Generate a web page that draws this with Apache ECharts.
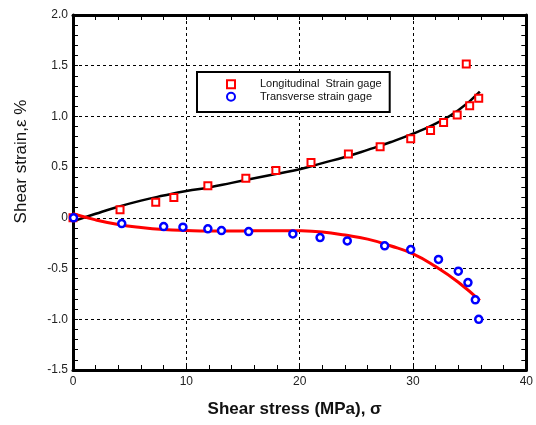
<!DOCTYPE html>
<html>
<head>
<meta charset="utf-8">
<script src="https://cdn.jsdelivr.net/npm/echarts@6/dist/echarts.min.js"></script>
<style>
  html, body { margin: 0; padding: 0; background: #fff; }
  #chart { width: 536px; height: 425px; }
</style>
</head>
<body>
<div id="chart"></div>
<script>
// measured points (stress MPa, strain %)
const longStress = [0, 4.15, 7.3, 8.9, 11.9, 15.25, 17.9, 21.0, 24.3, 27.1, 29.8, 31.55, 32.7, 33.9, 34.7, 35.0, 35.8];
const longStrain = [0, 0.08, 0.155, 0.20, 0.316, 0.39, 0.467, 0.546, 0.63, 0.70, 0.78, 0.862, 0.94, 1.014, 1.517, 1.106, 1.18];

const transStress = [0.05, 4.3, 8.0, 9.7, 11.9, 13.1, 15.5, 19.4, 21.8, 24.2, 27.5, 29.8, 32.25, 34.0, 34.85, 35.5, 35.8];
const transStrain = [0, -0.056, -0.086, -0.092, -0.108, -0.125, -0.135, -0.158, -0.194, -0.227, -0.276, -0.313, -0.41, -0.526, -0.638, -0.808, -1.0];

// fitted curves
const fitLongX = [0, 2, 4, 6, 8, 10, 12, 14, 16, 18, 20, 22, 24, 26, 28, 30, 32, 34, 35.9];
const fitLongY = [-0.035, 0.04, 0.11, 0.17, 0.22, 0.265, 0.30, 0.345, 0.39, 0.435, 0.48, 0.54, 0.60, 0.67, 0.745, 0.83, 0.93, 1.06, 1.245];
const fitTransX = [0, 2, 4, 6, 8, 10, 12, 14, 16, 18, 20, 22, 24, 26, 28, 30, 32, 34, 35.9];
const fitTransY = [0.04, -0.02, -0.065, -0.095, -0.115, -0.125, -0.13, -0.13, -0.128, -0.126, -0.128, -0.14, -0.17, -0.21, -0.275, -0.355, -0.48, -0.635, -0.815];

const seriesNames = ['Longitudinal  Strain gage', 'Transverse strain gage'];
const yTickLabels = { '-1.5': '-1.5', '-1': '-1.0', '-0.5': '-0.5', '0': '0', '0.5': '0.5', '1': '1.0', '1.5': '1.5', '2': '2.0' };

const zip = (a, b) => a.map((v, i) => [v, b[i]]);

const chart = echarts.init(document.getElementById('chart'));

const gridDash = { show: true, lineStyle: { color: '#000', width: 1, type: [3, 3] } };
const tickIn = { show: true, inside: true, length: 5, lineStyle: { color: '#000', width: 1 } };
const minorIn = { show: true, splitNumber: 5, length: 5, lineStyle: { color: '#000', width: 1 } };
const frame = { show: true, onZero: false, lineStyle: { color: '#000', width: 3 } };
const font = 'Liberation Sans, Arial, sans-serif';

let option = {
  animation: false,
  textStyle: { fontFamily: font },
  grid: { left: 73, right: 7, top: 15, bottom: 55 },
  xAxis: [
    {
      type: 'value', min: 0, max: 40, interval: 10,
      axisLine: frame, axisTick: tickIn, minorTick: minorIn,
      splitLine: gridDash,
      axisLabel: { color: '#222', fontSize: 12, margin: 6, fontFamily: font },
      name: 'Shear stress (MPa), σ',
      nameLocation: 'middle', nameGap: 31,
      nameTextStyle: { color: '#111', fontSize: 17, fontWeight: 'bold', fontFamily: font, padding: [0, 10, 0, 0] }
    },
    {
      type: 'value', position: 'top', min: 0, max: 40, interval: 10,
      axisLine: frame, axisTick: tickIn, minorTick: minorIn,
      splitLine: { show: false }, axisLabel: { show: false }
    }
  ],
  yAxis: [
    {
      type: 'value', min: -1.5, max: 2.0, interval: 0.5,
      axisLine: frame, axisTick: tickIn, minorTick: minorIn,
      splitLine: gridDash,
      axisLabel: {
        color: '#222', fontSize: 12, margin: 5, fontFamily: font,
        formatter: (v) => yTickLabels[String(v)] || String(v)
      },
      name: 'Shear strain,ε %',
      nameLocation: 'middle', nameGap: 43,
      nameTextStyle: { color: '#111', fontSize: 17, fontFamily: font, padding: [0, 0, 0, 62] }
    },
    {
      type: 'value', position: 'right', min: -1.5, max: 2.0, interval: 0.5,
      axisLine: frame, axisTick: tickIn, minorTick: minorIn,
      splitLine: { show: false }, axisLabel: { show: false }
    }
  ],
  legend: {
    data: seriesNames,
    orient: 'vertical',
    left: 197, top: 72,
    itemWidth: 8, itemHeight: 8, itemGap: 0,
    padding: [6, 8, 9, 29],
    borderColor: '#000', borderWidth: 2, backgroundColor: '#fff',
    textStyle: { color: '#111', fontSize: 11, lineHeight: 12.5, fontFamily: font, padding: [0, 0, 0, 20] }
  },
  series: [
    {
      name: 'fitLong', type: 'line', smooth: true, showSymbol: false, symbol: 'none',
      data: zip(fitLongX, fitLongY), lineStyle: { color: '#000', width: 2.5 }, z: 2
    },
    {
      name: 'fitTrans', type: 'line', smooth: true, showSymbol: false, symbol: 'none',
      data: zip(fitTransX, fitTransY), lineStyle: { color: '#f00', width: 3 }, z: 2
    },
    {
      name: seriesNames[0], type: 'scatter', symbol: 'rect', symbolSize: 7,
      data: zip(longStress, longStrain),
      itemStyle: { color: '#fff', borderColor: '#f00', borderWidth: 2, opacity: 1 }, z: 3
    },
    {
      name: seriesNames[1], type: 'scatter', symbol: 'circle', symbolSize: 7,
      data: zip(transStress, transStrain),
      itemStyle: { color: '#fff', borderColor: '#00f', borderWidth: 2.5, opacity: 1 }, z: 4
    }
  ]
};

option && chart.setOption(option);
</script>
</body>
</html>
